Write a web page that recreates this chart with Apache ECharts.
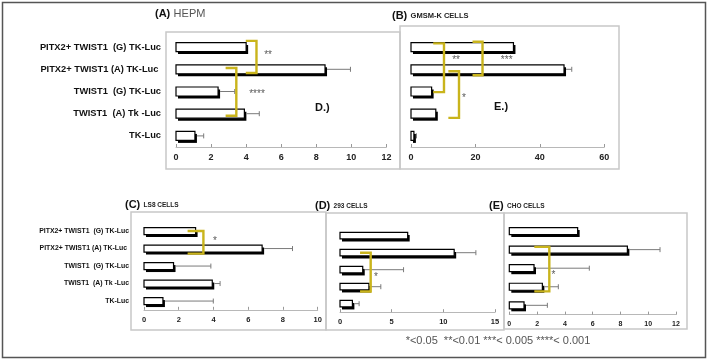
<!DOCTYPE html>
<html lang="en">
<head>
    <meta charset="UTF-8">
    <title>Luciferase panels</title>
    <script src="https://cdn.jsdelivr.net/npm/echarts@6/dist/echarts.min.js"></script>
    <style>
        body { margin: 0; background: #fff; }
    </style>
</head>
<body>
    <div id="chart" style="width: 708px;height: 360px;"></div>
    <script>
        var chart = echarts.init(document.getElementById("chart"));

        // categories, top to bottom
        var categories = ["PITX2+ TWIST1  (G) TK-Luc", "PITX2+ TWIST1 (A) TK-Luc ", "TWIST1  (G) TK-Luc", "TWIST1  (A) Tk -Luc", "TK-Luc"];

        // values and error bars
        var hepmValues = [4.0, 8.5, 2.4, 3.9, 1.08];
        var hepmErrors = [0, 1.45, 0.95, 0.85, 0.5];
        var gmsmValues = [31.8, 47.5, 6.4, 7.7, 0.9];
        var gmsmErrors = [0, 2.4, 0, 0, 0.8];
        var ls8Values = [2.97, 6.8, 1.7, 3.93, 1.09];
        var ls8Errors = [0, 1.75, 2.15, 0.45, 2.9];
        var c293Values = [6.55, 11.05, 2.2, 2.8, 1.2];
        var c293Errors = [0, 2.1, 3.95, 1.15, 0.65];
        var choValues = [4.92, 8.5, 1.78, 2.38, 1.06];
        var choErrors = [0, 2.35, 3.98, 1.15, 1.68];

        // brackets: [x from, x to, 0, top (category units), bottom (category units)]
        var hepmBrackets = [[3.98, 4.59, 0, -0.28, 1.17], [2.83, 3.44, 0, 0.94, 3.09]];
        var gmsmBrackets = [[6.9, 10.24, 0, -0.17, 2.03], [19.1, 22.2, 0, -0.24, 1.27], [11.6, 14.9, 0, 1.09, 3.19]];
        var ls8Brackets = [[2.51, 3.42, 0, 0.0, 1.29]];
        var c293Brackets = [[1.94, 2.97, 0, 1.0, 3.28]];
        var choBrackets = [[1.8, 2.88, 0, 0.85, 3.25]];

        // significance marks: [x, 0, y (category units)] + text
        var hepmStars = [[5.25, 0, 0.27], [4.62, 0, 2.03]];
        var hepmStarText = ["**", "****"];
        var gmsmStars = [[14, 0, 0.46], [29.7, 0, 0.46], [16.4, 0, 2.18]];
        var gmsmStarText = ["**", "***", "*"];
        var ls8Stars = [[4.09, 0, 0.46]];
        var ls8StarText = ["*"];
        var c293Stars = [[3.48, 0, 2.28]];
        var c293StarText = ["*"];
        var choStars = [[3.17, 0, 2.22]];
        var choStarText = ["*"];

        var font = "Liberation Sans";
        var gold = "#c9b41c";

        var panels = [
            { values: hepmValues, errors: hepmErrors, brackets: hepmBrackets, stars: hepmStars, starText: hepmStarText,
              left: 176, top: 36, width: 210.4, height: 111, max: 12, interval: 2, bar: 9, showCat: true, catSize: 9.3, tickSize: 9 },
            { values: gmsmValues, errors: gmsmErrors, brackets: gmsmBrackets, stars: gmsmStars, starText: gmsmStarText,
              left: 411, top: 36, width: 193.3, height: 111, max: 60, interval: 20, bar: 9, showCat: false, tickSize: 9 },
            { values: ls8Values, errors: ls8Errors, brackets: ls8Brackets, stars: ls8Stars, starText: ls8StarText,
              left: 144, top: 222.3, width: 173.7, height: 87.5, max: 10, interval: 2, bar: 7, showCat: true, catSize: 6.9, tickSize: 7.5 },
            { values: c293Values, errors: c293Errors, brackets: c293Brackets, stars: c293Stars, starText: c293StarText,
              left: 340, top: 227.2, width: 155, height: 85, max: 15, interval: 5, bar: 6.5, showCat: false, tickSize: 7.5 },
            { values: choValues, errors: choErrors, brackets: choBrackets, stars: choStars, starText: choStarText,
              left: 509.3, top: 221.8, width: 166.7, height: 92.8, max: 12, interval: 2, bar: 7, showCat: false, tickSize: 7 }
        ];

        var grid = [], xAxis = [], yAxis = [], series = [];

        panels.forEach(function (p, i) {
            grid.push({ left: p.left, top: p.top, width: p.width, height: p.height });
            xAxis.push({
                type: "value", gridIndex: i, min: 0, max: p.max, interval: p.interval,
                splitLine: { show: false },
                axisLine: { show: true, lineStyle: { color: "#b8b8b8", width: 1 } },
                axisTick: { show: true, inside: true, length: 3, lineStyle: { color: "#999" } },
                axisLabel: { fontSize: p.tickSize, fontWeight: "bold", color: "#222", fontFamily: font, margin: 6 }
            });
            yAxis.push({
                type: "category", gridIndex: i, data: categories, inverse: true,
                axisLine: { show: false }, axisTick: { show: false },
                axisLabel: { show: p.showCat, fontSize: p.catSize, fontWeight: "bold", color: "#111", fontFamily: font, margin: p.showCat ? 15 : 0 }
            });

            // bars: white box, black outline, offset black shadow
            series.push({
                type: "custom", xAxisIndex: i, yAxisIndex: i, z: 2, silent: true,
                data: p.values.map(function (v, k) { return [v, k]; }),
                encode: { x: 0, y: 1 },
                renderItem: function (params, api) {
                    var k = api.value(1);
                    var a = api.coord([0, k]);
                    var b = api.coord([api.value(0), k]);
                    var h = p.bar, w = b[0] - a[0], y = a[1] - h / 2;
                    return {
                        type: "group", children: [
                            { type: "rect", shape: { x: a[0] + 2, y: y + 2.5, width: w, height: h }, style: { fill: "#000" } },
                            { type: "rect", shape: { x: a[0], y: y, width: w, height: h },
                              style: { fill: "#fff", stroke: "#000", lineWidth: 1.2 } }
                        ]
                    };
                }
            });

            // error bars
            series.push({
                type: "custom", xAxisIndex: i, yAxisIndex: i, z: 3, silent: true,
                data: p.values.map(function (v, k) { return [v, p.errors[k], k]; }),
                encode: { x: 0, y: 2 },
                renderItem: function (params, api) {
                    var v = api.value(0), e = api.value(1), k = api.value(2);
                    if (!e) return;
                    var a = api.coord([v, k]);
                    var b = api.coord([v + e, k]);
                    var s = { stroke: "#7a7a7a", lineWidth: 1 };
                    return {
                        type: "group", children: [
                            { type: "line", shape: { x1: a[0] + 2, y1: a[1], x2: b[0], y2: b[1] }, style: s },
                            { type: "line", shape: { x1: b[0], y1: b[1] - 2.5, x2: b[0], y2: b[1] + 2.5 }, style: s }
                        ]
                    };
                }
            });

            // significance brackets
            series.push({
                type: "custom", xAxisIndex: i, yAxisIndex: i, z: 4, silent: true,
                data: p.brackets,
                encode: { x: [0, 1], y: 2 },
                renderItem: function (params, api) {
                    var x1 = api.coord([api.value(0), 0])[0];
                    var x2 = api.coord([api.value(1), 0])[0];
                    var c0 = api.coord([0, 0])[1];
                    var band = api.size([0, 1])[1];
                    var y1 = c0 + api.value(3) * band;
                    var y2 = c0 + api.value(4) * band;
                    return {
                        type: "polyline",
                        shape: { points: [[x1, y1], [x2, y1], [x2, y2], [x1, y2]] },
                        style: { stroke: gold, lineWidth: 2.4, fill: null }
                    };
                }
            });

            // stars (asterisks sit high in the glyph box, so nudge them down)
            series.push({
                type: "custom", xAxisIndex: i, yAxisIndex: i, z: 5, silent: true,
                data: p.stars,
                encode: { x: 0, y: 1 },
                renderItem: function (params, api) {
                    var x = api.coord([api.value(0), 0])[0];
                    var c0 = api.coord([0, 0])[1];
                    var band = api.size([0, 1])[1];
                    return {
                        type: "text",
                        style: { text: p.starText[params.dataIndex], x: x, y: c0 + api.value(2) * band + 2.5,
                            align: "center", verticalAlign: "middle", fill: "#5a5a5a", fontSize: 10, fontFamily: font }
                    };
                }
            });
        });

        function box(x, y, w, h, color, lw) {
            return { type: "rect", silent: true, z: 0,
                shape: { x: x, y: y, width: w, height: h },
                style: { fill: null, stroke: color, lineWidth: lw } };
        }

        function title(x, y, tag, name, nameSize, nameWeight, nameColor) {
            return { type: "text", silent: true, x: x, y: y, z: 10,
                style: { text: "{t|" + tag + "} {n|" + name + "}", verticalAlign: "middle", fontFamily: font,
                    rich: {
                        t: { fontSize: 11, fontWeight: "bold", fill: "#111", fontFamily: font },
                        n: { fontSize: nameSize, fontWeight: nameWeight, fill: nameColor, fontFamily: font }
                    } } };
        }

        var graphic = [
            box(2.5, 2.5, 703, 355, "#555", 1.5),
            box(166, 32, 234, 137, "#c8c8c8", 1.5),
            box(400, 26, 219, 143, "#c8c8c8", 1.5),
            box(131, 212, 195, 118, "#c8c8c8", 1.5),
            box(326, 213, 178, 117, "#c8c8c8", 1.5),
            box(504, 213, 183, 116, "#c8c8c8", 1.5),
            title(155, 14, "(A)", "HEPM", 11, "normal", "#555"),
            title(392, 16, "(B)", "GMSM-K CELLS", 7.5, "bold", "#222"),
            title(125, 205, "(C)", "LS8 CELLS", 6.5, "bold", "#222"),
            title(315, 206, "(D)", "293 CELLS", 6.5, "bold", "#222"),
            title(489, 206, "(E)", "CHO CELLS", 6.5, "bold", "#222"),
            { type: "text", silent: true, x: 315, y: 108, z: 10,
              style: { text: "D.)", verticalAlign: "middle", fontSize: 11, fontWeight: "bold", fill: "#111", fontFamily: font } },
            { type: "text", silent: true, x: 494, y: 107, z: 10,
              style: { text: "E.)", verticalAlign: "middle", fontSize: 11, fontWeight: "bold", fill: "#111", fontFamily: font } },
            { type: "text", silent: true, x: 498, y: 341, z: 10,
              style: { text: "*<0.05  **<0.01 ***< 0.005 ****< 0.001", align: "center", verticalAlign: "middle",
                  fontSize: 11, fill: "#555", fontFamily: font } }
        ];

        chart.setOption({
            animation: false,
            backgroundColor: "#fff",
            grid: grid,
            xAxis: xAxis,
            yAxis: yAxis,
            series: series,
            graphic: graphic
        });
    </script>
</body>
</html>
